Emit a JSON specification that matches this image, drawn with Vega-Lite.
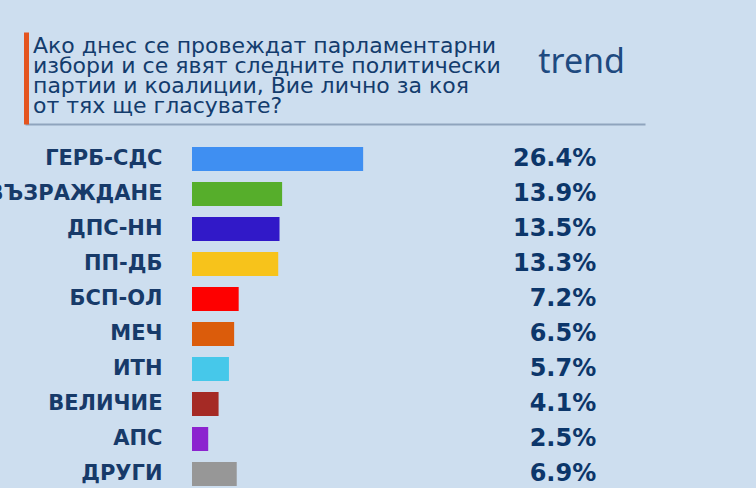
{
  "$schema": "https://vega.github.io/schema/vega-lite/v6.json",
  "width": 564,
  "height": 348,
  "autosize": "none",
  "padding": {"left": 192, "top": 140, "right": 0, "bottom": 0},
  "background": "#cddeef",
  "config": {"view": {"stroke": null}},
  "layer": [
    {
      "data": {
        "values": [
          {"party": "ГЕРБ-СДС", "share": 0.264},
          {"party": "ВЪЗРАЖДАНЕ", "share": 0.139},
          {"party": "ДПС-НН", "share": 0.135},
          {"party": "ПП-ДБ", "share": 0.133},
          {"party": "БСП-ОЛ", "share": 0.072},
          {"party": "МЕЧ", "share": 0.065},
          {"party": "ИТН", "share": 0.057},
          {"party": "ВЕЛИЧИЕ", "share": 0.041},
          {"party": "АПС", "share": 0.025},
          {"party": "ДРУГИ", "share": 0.069}
        ]
      },
      "encoding": {
        "y": {
          "field": "party",
          "type": "nominal",
          "sort": null,
          "scale": {"range": [0, 353], "paddingInner": 0.314, "paddingOuter": 0.2},
          "axis": {
            "orient": "left",
            "domain": false,
            "ticks": false,
            "tickSize": 0,
            "grid": false,
            "title": null,
            "labelPadding": 30,
            "labelLimit": 400,
            "labelFont": "DejaVu Sans",
            "labelFontSize": 21,
            "labelFontWeight": "bold",
            "labelColor": "#173a69"
          }
        }
      },
      "layer": [
        {
          "mark": {"type": "bar"},
          "encoding": {
            "x": {"field": "share", "type": "quantitative", "scale": {"domain": [0, 0.87], "nice": false}, "axis": null},
            "color": {
              "field": "party",
              "type": "nominal",
              "scale": {
                "domain": ["ГЕРБ-СДС", "ВЪЗРАЖДАНЕ", "ДПС-НН", "ПП-ДБ", "БСП-ОЛ", "МЕЧ", "ИТН", "ВЕЛИЧИЕ", "АПС", "ДРУГИ"],
                "range": ["#3f8ff2", "#56ae2b", "#3119c8", "#f7c31b", "#fe0000", "#db5c0b", "#46c8ea", "#a52a25", "#8c23cf", "#979797"]
              },
              "legend": null
            }
          }
        },
        {
          "mark": {"type": "text", "align": "right", "baseline": "middle", "font": "DejaVu Sans", "fontSize": 24, "fontWeight": "bold", "color": "#0c366a"},
          "encoding": {
            "x": {"datum": 0.6235, "type": "quantitative"},
            "text": {"field": "share", "format": ".1%"}
          }
        }
      ]
    },
    {
      "layer": [
        {
          "data": {
            "values": [
              {"line": 1, "text": "Ако днес се провеждат парламентарни"},
              {"line": 2, "text": "избори и се явят следните политически"},
              {"line": 3, "text": "партии и коалиции, Вие лично за коя"},
              {"line": 4, "text": "от тях ще гласувате?"}
            ]
          },
          "mark": {"type": "text", "align": "left", "baseline": "alphabetic", "font": "DejaVu Sans", "fontSize": 22, "color": "#133c6d", "dx": 8},
          "encoding": {
            "x": {
              "datum": 0,
              "type": "quantitative",
              "scale": {"domain": [0, 1], "range": [-167, 453], "nice": false, "zero": false},
              "axis": {"orient": "top", "offset": 16, "domain": true, "domainColor": "#8fa4bd", "domainWidth": 2, "labels": false, "ticks": false, "grid": false, "title": null}
            },
            "y": {
              "field": "line",
              "type": "ordinal",
              "scale": {"type": "point", "range": [-108, -16], "padding": 0.8, "align": 0.656},
              "axis": {"orient": "left", "offset": 166, "domain": true, "domainColor": "#e4541f", "domainWidth": 5, "labels": false, "ticks": false, "grid": false, "title": null}
            },
            "text": {"field": "text"}
          }
        },
        {
          "data": {"values": [{"logo": "trend"}]},
          "mark": {"type": "text", "align": "right", "baseline": "alphabetic", "font": "Noto Sans", "fontSize": 34, "color": "#1e4a80", "dx": -20},
          "encoding": {
            "x": {"datum": 1, "type": "quantitative"},
            "y": {"datum": 2, "type": "ordinal"},
            "text": {"field": "logo"}
          }
        }
      ]
    }
  ],
  "resolve": {
    "scale": {"x": "independent", "y": "independent", "color": "independent"},
    "axis": {"x": "independent", "y": "independent"}
  }
}
